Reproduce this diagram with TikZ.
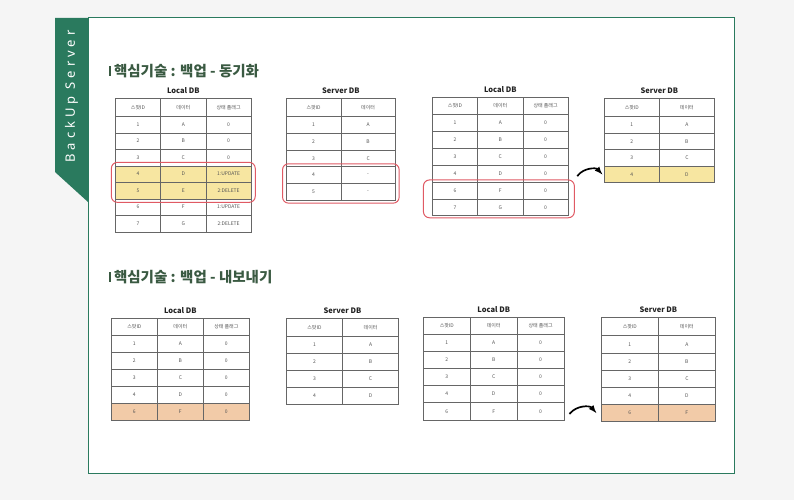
\documentclass[tikz,border=0pt]{standalone}
\usepackage{fontspec}
\setmainfont{Noto Sans CJK KR}
\newfontfamily\tabsidefont{Noto Sans}
\usetikzlibrary{matrix,positioning,fit,arrows}

\begin{document}
\begin{tikzpicture}[x=1pt,y=-1pt,line cap=rect,
  dbtab/.style n args={3}{matrix of nodes, anchor=north west, inner sep=0pt, outer sep=0pt,
    row sep=-0.7pt, column sep=-0.7pt,
    nodes={draw=custcol_66_66_66, line width=0.7pt, inner sep=0pt, minimum width=#1pt, minimum height=#3pt,
      font=\fontsize{5pt}{6pt}\selectfont, text=custcol_55_55_55, anchor=center},
    row 1/.style={nodes={minimum height=#2pt}}},
  dbtitle/.style={inner sep=0, outer sep=0, font=\fontsize{7.5pt}{8pt}\selectfont\bfseries, text=custcol_22_22_22},
  sectitle/.style={inner sep=0, outer sep=0, anchor=west, font=\fontsize{14.5pt}{15pt}\selectfont\bfseries, text=custcol_3a_5a_42},
  secbar/.style={inner sep=0, outer sep=0, fill=custcol_3a_5a_42, minimum width=2.5pt, minimum height=10.5pt},
  hibox/.style={draw=custcol_e0_5a_64, line width=1pt, rounded corners=6pt, inner sep=4pt},
  hiyellow/.style={nodes={fill=custcol_f7_e6_a1}},
  hiorange/.style={nodes={fill=custcol_f2_cb_a8}},
  flowarrow/.style={line width=1.7pt, custcol_0_0_0, -latex}]
\definecolor{custcol_f5_f5_f5}{RGB}{245, 245, 245}
\definecolor{custcol_ff_ff_ff}{RGB}{255, 255, 255}
\definecolor{custcol_2a_7a_5e}{RGB}{42, 122, 94}
\definecolor{custcol_66_66_66}{RGB}{102, 102, 102}
\definecolor{custcol_55_55_55}{RGB}{85, 85, 85}
\definecolor{custcol_22_22_22}{RGB}{34, 34, 34}
\definecolor{custcol_3a_5a_42}{RGB}{58, 90, 66}
\definecolor{custcol_e0_5a_64}{RGB}{224, 90, 100}
\definecolor{custcol_f7_e6_a1}{RGB}{247, 230, 161}
\definecolor{custcol_f2_cb_a8}{RGB}{242, 203, 168}
\definecolor{custcol_0_0_0}{RGB}{0, 0, 0}
% page, panel and side tab
\useasboundingbox (0,0) rectangle (794,500);
\fill [custcol_f5_f5_f5] (0,0) rectangle (794,500);
\draw [line width=1pt, custcol_2a_7a_5e, fill=custcol_ff_ff_ff] (88,18) rectangle (734,473);
\fill [custcol_2a_7a_5e] (55,18) -- (88,18) -- (88,202) -- (55,172) -- cycle;
\node[rotate=90, inner sep=0, text=custcol_ff_ff_ff, font=\tabsidefont\fontsize{13pt}{13pt}\selectfont\addfontfeature{LetterSpace=30}] (tab) at (71.5,96.5) {BackUp Server};
% section 1
\node[sectitle] (sec1) at (114,71) {핵심기술 : 백업 - 동기화};
\node[secbar, left=3pt of sec1] (sec1bar) {};
\matrix (t1) [dbtab={45.3}{18}{16.5}, row 5/.style=hiyellow, row 6/.style=hiyellow] at (115,98) {
  스팟ID & 데이터 & 상태 플래그 \\
  1 & A & 0 \\
  2 & B & 0 \\
  3 & C & 0 \\
  4 & D & 1:UPDATE \\
  5 & E & 2:DELETE \\
  6 & F & 1:UPDATE \\
  7 & G & 2:DELETE \\
};
\node[dbtitle, above=4pt of t1] (t1title) {Local DB};
\node[hibox, inner ysep=3.5pt, fit=(t1-5-1)(t1-6-3)] (t1box) {};
\matrix (t2) [dbtab={54.5}{18.3}{16.7}] at (286,98) {
  스팟ID & 데이터 \\
  1 & A \\
  2 & B \\
  3 & C \\
  4 & - \\
  5 & - \\
};
\node[dbtitle, above=4pt of t2] (t2title) {Server DB};
\node[hibox, inner xsep=3.8pt, inner ysep=3pt, fit=(t2-5-1)(t2-6-2)] (t2box) {};
\matrix (t3) [dbtab={45.3}{17}{16.9}] at (432,97) {
  스팟ID & 데이터 & 상태 플래그 \\
  1 & A & 0 \\
  2 & B & 0 \\
  3 & C & 0 \\
  4 & D & 0 \\
  6 & F & 0 \\
  7 & G & 0 \\
};
\node[dbtitle, above=4pt of t3] (t3title) {Local DB};
\node[hibox, inner xsep=7.5pt, inner ysep=2pt, xshift=-1.4pt, fit=(t3-6-1)(t3-7-3)] (t3box) {};
\matrix (t4) [dbtab={55}{18}{16.6}, row 5/.style=hiyellow] at (604,98) {
  스팟ID & 데이터 \\
  1 & A \\
  2 & B \\
  3 & C \\
  4 & D \\
};
\node[dbtitle, above=4pt of t4] (t4title) {Server DB};
\coordinate (arr1) at ([xshift=3pt,yshift=4pt]t3box.north east);
\draw[flowarrow] (arr1) to[bend left=50] ([xshift=-2pt]t4-5-1.west);
% section 2
\node[sectitle] (sec2) at (114,277) {핵심기술 : 백업 - 내보내기};
\node[secbar, left=3pt of sec2] (sec2bar) {};
\matrix (t5) [dbtab={46}{17.3}{16.86}, row 6/.style=hiorange] at (111,318) {
  스팟ID & 데이터 & 상태 플래그 \\
  1 & A & 0 \\
  2 & B & 0 \\
  3 & C & 0 \\
  4 & D & 0 \\
  6 & F & 0 \\
};
\node[dbtitle, above=4pt of t5] (t5title) {Local DB};
\matrix (t6) [dbtab={56.15}{18.3}{17}] at (286,318) {
  스팟ID & 데이터 \\
  1 & A \\
  2 & B \\
  3 & C \\
  4 & D \\
};
\node[dbtitle, above=4pt of t6] (t6title) {Server DB};
\matrix (t7) [dbtab={46.9}{16.6}{17.2}] at (423,317) {
  스팟ID & 데이터 & 상태 플래그 \\
  1 & A & 0 \\
  2 & B & 0 \\
  3 & C & 0 \\
  4 & D & 0 \\
  6 & F & 0 \\
};
\node[dbtitle, above=4pt of t7] (t7title) {Local DB};
\matrix (t8) [dbtab={57}{18.3}{17.2}, row 6/.style=hiorange] at (601,317) {
  스팟ID & 데이터 \\
  1 & A \\
  2 & B \\
  3 & C \\
  4 & D \\
  6 & F \\
};
\node[dbtitle, above=4pt of t8] (t8title) {Server DB};
\coordinate (arr2) at ([xshift=6pt,yshift=-2pt]t7-6-3.east);
\draw[flowarrow] (arr2) to[bend left=50] ([xshift=-5pt]t8-6-1.west);
\end{tikzpicture}
\end{document}
